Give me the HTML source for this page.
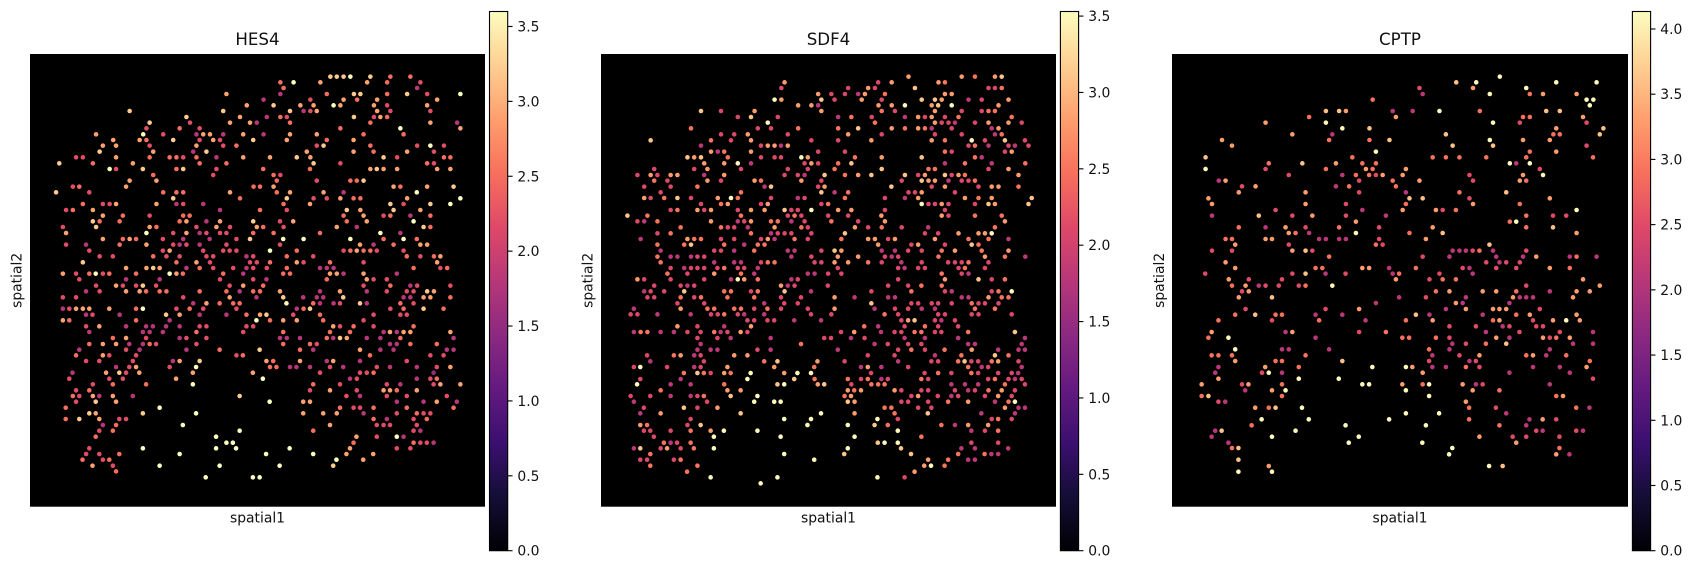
<!DOCTYPE html>
<html lang="en">
<head>
<meta charset="utf-8">
<title>Spatial gene expression: HES4, SDF4, CPTP</title>
<style>
html,body{margin:0;padding:0;background:#fff;width:1691px;height:568px;overflow:hidden}
svg{display:block}
text{font-family:"DejaVu Sans","Liberation Sans",sans-serif;fill:#111}
</style>
</head>
<body>
<svg id="figure" xmlns="http://www.w3.org/2000/svg" width="1691" height="568" viewBox="0 0 1691 568"></svg>
<script>
const geneNames = ["HES4", "SDF4", "CPTP"];
const hes4Ticks = [0, 0.5, 1, 1.5, 2, 2.5, 3, 3.5];
const sdf4Ticks = [0, 0.5, 1, 1.5, 2, 2.5, 3, 3.5];
const cptpTicks = [0, 0.5, 1, 1.5, 2, 2.5, 3, 3.5, 4];
const exprMax = [3.6, 3.53, 4.134];
const spatial1Min = [84, 87, 115];
const spatial1Max = [1358, 1361, 1392];
const spatial2Range = [162, 1520];
const magmaColors = ["#000004","#140e36","#3b0f70","#641a80","#8c2981","#b73779","#de4968","#f7705c","#fe9f6d","#fecf92","#fcfdbf"];

// Each row: spatial2, then repeated spatial1, expression pairs
const hes4Rows = [
[230,925,3.2,943,3.2,962,3.2,981,3.6,1037,3.2,1093,2.5,1149,2.5],
[247,785,2.5,822,3.6,897,2.9,1028,2.9,1084,2.5,1177,2.2],
[264,794,2.5,1168,1.8],
[282,634,2.9,785,1.8,915,2.5,991,3.2,1009,3.2,1084,2.5,1140,3.2,1196,2.2,1289,3.6],
[299,738,1.8,869,2.2,962,2.9,1000,2.5,1056,2.9,1224,2.9],
[316,691,2.9,766,3.2,841,2.9,878,2.9,934,3.6,953,2.9,1047,2.9,1084,2.2,1196,2.9],
[333,363,3.2,625,3.2,812,3.2,850,1.8,869,2.2,887,2.9,1056,2.9,1093,2.2,1205,2.2],
[351,522,3.2,672,2.9,747,1.8,785,2.5,803,2.2,991,3.2,1047,2.2,1065,2.9,1084,2.5],
[368,419,3.2,532,2.2,644,2.9,700,2.9,719,1.8,812,2.5,1037,2.5,1205,2.9,1280,1.8],
[385,410,2.2,503,2.5,559,2.2,953,2.5,1121,3.6,1289,2.9],
[403,269,2.9,401,3.6,457,2.2,550,1.8,569,2.9,588,2.9,625,1.8,681,2.9,738,1.8,812,2.9,887,2.9,1018,2.5,1130,2.5],
[420,317,2.9,391,2.9,410,2.5,485,3.2,559,2.2,597,2.9,616,2.2,709,3.2,803,2.9,915,2.5,990,2.9],
[437,288,2.9,325,2.9,419,2.2,550,2.9,625,2.2,662,2.5,887,2.2,906,3.2,1037,2.5,1168,2.2,1205,3.6,1243,2.2],
[455,279,3.2,429,2.9,541,1.8,578,3.2,859,2.9,990,2.9,1046,2.5,1140,2.9,1215,2.2],
[472,213,2.2,232,2.2,325,2.9,419,2.5,475,2.5,494,2.5,513,2.2,550,2.5,606,1.8,681,2.9,756,2.9,831,3.2,869,2.9,1074,3.2,1112,2.2,1243,2.5,1261,2.5],
[490,166,3.2,260,2.5,372,2.9,559,2.5,634,2.5,878,3.2,953,2.2,1196,2.5,1215,2.2],
[507,307,3.6,325,2.2,400,3.2,494,2.5,513,3.2,606,2.2,737,2.5,868,2.5,1037,2.9,1055,3.2,1074,2.9,1112,2.9,1224,2.9,1261,2.9],
[525,429,2.5,597,2.2,766,2.5,785,2.2],
[542,363,2.9,438,2.9,775,2.5,887,2.2,981,2.5,999,2.5,1018,3.2],
[560,204,2.2,222,2.5,353,2.9,710,2.5,728,2.5,766,2.9,1102,2.9,1121,2.5,1196,2.9,1270,3.2],
[577,157,3.2,250,2.2,457,2.5,494,2.5,513,2.5,644,2.9,775,2.5,812,2.9,906,2.9,962,1.8,1167,3.6],
[595,485,3.2,672,2.5,803,3.2,878,2.2,915,2.2,953,2.9,990,2.5,1009,2.5,1140,2.9,1289,3.6],
[612,232,2.5,288,2.2,307,2.2,325,2.9,438,2.9,494,1.8,513,2.2,569,1.8,794,2.5,868,2.9,1093,3.2,1130,2.2,1205,3.2,1261,3.6],
[630,185,2.2,204,2.5,260,2.9,616,1.8,728,2.5,803,2.2,971,3.2,1009,2.9,1102,3.2,1177,2.9],
[647,288,2.9,344,2.5,419,2.2,513,2.5,531,2.5,962,2.5,1018,2.9,1074,2.2,1093,2.5,1149,1.8,1205,2.5],
[664,260,3.2,279,2.5,335,2.5,503,2.5,522,2.9,578,1.8,616,2.9,709,3.2,784,2.2,821,2.9,971,2.5,1027,2.9,1158,3.6],
[681,176,2.2,269,3.2,419,2.9,438,2.5,550,2.2,606,2.9,644,2.2,719,2.9,737,2.5,794,2.2,943,2.9,999,1.8,1186,3.2,1205,2.5],
[699,185,2.9,410,3.6,485,2.2,522,2.9,559,1.8,578,2.2,616,2.2,634,2.2,709,2.5,766,2.5,896,2.5,1065,3.6,1121,1.8],
[717,288,2.9,344,2.5,363,2.9,381,2.5,456,2.2,513,1.8,587,1.8,662,2.2,700,3.2,793,3.6,850,3.6,981,3.6,1074,2.5,1130,3.6,1167,2.5],
[734,185,2.2,241,1.8,335,2.5,410,2.9,485,2.2,503,1.8,522,2.2,559,1.8,634,2.2,784,2.2,1008,2.9,1046,1.8,1102,2.5,1177,2.9,1196,2.9],
[752,250,2.2,456,2.2,475,2.9,569,2.2,625,2.2,643,2.2,662,2.2,756,3.6,831,2.5,962,2.2,981,2.5,999,2.9,1018,2.5,1037,2.5,1055,2.2,1130,2.2],
[769,279,2.2,316,2.2,429,2.5,466,2.2,503,2.2,578,2.2,597,2.2,690,1.8,709,2.2,803,2.5,877,2.2,1139,2.5,1177,2.2,1215,2.5,1233,2.9],
[787,232,3.2,494,2.5,550,2.9,588,2.2,700,2.2,719,2.2,756,2.5,831,2.9,850,2.2,924,2.5,1018,2.2,1224,2.9],
[804,353,2.9,410,2.9,429,3.2,447,2.9,522,1.8,559,2.5,597,2.2,653,2.2,690,1.8,709,2.2,747,2.2,803,2.5,896,1.8,915,1.8,934,1.8,1158,2.5,1233,2.2,1252,2.5],
[821,176,2.9,213,2.2,250,2.5,268,3.6,288,2.2,306,2.5,381,2.5,475,3.6,494,2.9,512,2.5,625,2.5,681,1.8,793,2.5,812,2.5,924,2.9,943,2.9,962,1.8,1018,2.9,1111,1.8],
[838,222,2.2,353,1.8,447,1.8,616,2.2,709,2.2,746,1.8,915,2.5,1027,2.9,1046,2.2,1083,2.2],
[857,269,2.2,325,2.9,344,2.2,381,2.2,400,3.2,437,2.2,643,2.2,681,2.9,737,2.5,1018,2.2,1093,2.5,1149,1.8,1168,2.2,1261,2.2],
[874,241,1.8,279,2.2,353,2.9,391,2.9,409,2.5,447,2.5,466,2.5,559,2.5,634,2.5,671,1.8,709,2.5,728,2.5,784,2.9,896,1.8,952,2.9,1027,1.8,1083,2.2,1139,2.2,1158,2.2,1196,3.2,1215,2.9],
[892,176,2.2,213,2.2,513,2.2,643,2.9,718,1.8,793,3.2,849,1.8,887,1.8,905,1.8,961,3.2,1130,1.8,1149,1.8,1186,2.9,1205,2.9,1261,2.5],
[910,541,1.8,578,2.9,615,2.5,653,2.5,671,2.5,802,3.6,877,2.5,896,1.8,934,1.8,952,2.2,1008,3.2,1027,1.8,1121,2.5,1158,2.2],
[926,176,1.8,194,2.2,213,2.9,232,2.9,250,2.9,306,2.9,381,2.5,400,3.6,494,2.2,531,2.5,569,2.2,662,2.2,831,1.8,850,2.5,868,3.2,1093,2.2,1130,2.5,1186,3.2,1242,2.5],
[944,241,1.8,259,2.2,335,1.8,465,3.2,503,2.9,559,1.8,634,1.8,690,2.5,728,2.9,746,3.2,821,2.2,896,2.5,1046,2.2,1121,2.2,1139,2.2],
[961,176,2.9,194,2.5,381,2.5,475,1.8,718,3.6,756,2.5,793,2.9,831,2.9,905,2.5,1018,2.2],
[979,241,2.2,278,2.9,353,1.8,409,1.8,428,1.8,465,1.8,503,1.8,559,2.2,578,2.2,690,2.2,709,2.2,933,2.9,952,2.2,990,2.5,1046,2.2,1158,2.5],
[996,250,1.8,400,1.8,419,1.8,456,1.8,550,2.5,681,2.2,793,2.5,924,2.5,980,2.5,1074,1.8,1092,2.9,1111,1.8,1130,2.9,1149,2.9,1261,2.9],
[1014,316,2.5,353,2.9,409,2.2,503,1.8,522,2.2,578,2.2,784,1.8,803,1.8,840,1.8,915,2.5,933,1.8,952,3.2,971,2.9,1027,1.8,1065,1.8,1121,2.5,1270,1.8],
[1032,250,2.5,288,2.9,325,2.9,362,1.8,400,1.8,419,2.5,437,2.2,550,2.2,793,2.5,868,2.5,887,2.2,1092,1.8,1111,1.8,1149,2.5,1223,2.5],
[1049,222,1.8,353,2.2,391,1.8,522,1.8,615,2.5,727,3.2,840,2.5,877,1.8,1008,2.9,1065,1.8,1102,1.8,1251,1.8,1270,1.8],
[1066,213,2.5,288,2.9,306,2.2,381,2.2,662,2.2,680,2.5,1036,2.5,1205,2.2,1242,2.2],
[1083,241,2.2,278,2.2,372,2.2,484,1.8,503,2.9,559,3.2,746,2.9,765,2.5,840,2.9,915,1.8,933,2.9,1008,1.8,1139,2.2],
[1101,325,1.8,362,2.2,381,2.9,475,2.2,549,3.6,756,2.5,774,2.5,812,1.8,830,1.8,868,1.8,924,2.2,961,1.8,1055,2.2,1092,1.8,1167,1.8,1223,2.2,1261,2.9],
[1118,203,1.8,297,2.9,334,3.2,353,2.2,390,2.9,540,2.9,708,2.9,896,2.2,1008,2.2,1027,2.2,1046,2.5,1214,1.5],
[1136,194,2.2,306,2.2,344,2.2,493,2.9,736,3.6,980,1.8,999,2.2,1167,1.8,1205,2.2,1223,2.5],
[1153,260,2.2,316,2.5,409,2.5,540,3.6,877,2.5,952,2.2,1083,2.2,1121,1.8,1214,2.2,1233,2.9,1289,2.9],
[1171,213,2.2,250,2.5,868,2.2,924,2.9,999,2.2,1074,2.9,1092,2.9,1111,2.5,1167,2.9],
[1188,204,2.5,222,2.2,260,2.9,278,1.8,316,2.9,372,1.8,671,3.2,970,2.2,1008,1.8,1083,2.2,1139,2.2,1251,2.2],
[1205,213,2.2,268,3.2,325,2.9,755,3.6,849,2.9,868,2.9,1111,1.8,1186,1.8,1223,2.9,1279,1.8],
[1223,184,2.5,447,3.6,952,2.5,990,2.2,1008,2.2,1046,2.5,1139,2.5,1270,2.5],
[1240,250,3.2,268,2.9,400,3.2,549,3.6,849,2.9,905,2.9,943,2.9,1018,1.8,1111,2.2,1167,2.5,1186,2.2,1205,2.2],
[1257,184,2.5,222,3.2,278,2.9,334,2.2,353,2.2,1046,2.5,1083,1.8,1158,2.2,1195,2.5],
[1275,288,1.8,325,2.5,512,3.6,924,2.9,1055,2.2,1074,2.2,1092,2.2,1167,2.2],
[1292,278,2.2,316,2.5,671,3.6,877,2.5,1158,2.2,1177,1.8],
[1310,268,2.5,605,3.6,998,2.9,1055,2.2,1111,3.6,1130,1.8],
[1328,634,3.6,652,3.6,990,2.5,1158,2.5,1177,2.2,1195,2.2,1214,1.8],
[1345,250,2.2,400,3.6,605,3.6,661,3.6,811,3.6,980,2.9,1111,2.2,1149,2.2],
[1362,241,2.2,278,2.2,334,2.5,503,3.6,745,3.6,877,3.6,970,2.9,1045,2.9],
[1379,231,2.5,288,2.2,306,2.5,942,3.6,1017,2.9],
[1397,259,2.9,316,2.2,447,3.6,615,3.6,783,3.6,933,3.2],
[1414,325,2.5],
[1432,576,3.6,708,3.6,727,3.6]
];

const sdf4Rows = [
[230,948,2.8,1097,2.8,1134,2.5,1190,2.8,1209,3.1],
[247,601,2.8,863,2.1,901,2.8,1032,2.8,1050,2.5],
[264,592,2.1,779,2.1,835,2.8,854,2.1,966,3.1,1172,2.1,1190,2.1,1209,2.5],
[282,695,2.8,732,2.1,770,2.1,807,1.8,826,2.8,882,2.5,1050,2.8,1069,2.8],
[299,573,3.5,592,2.8,704,3.1,741,2.1,817,2.8,873,2.1,985,3.1,1022,3.1,1041,2.8,1116,1.8,1153,2.1,1228,2.8],
[316,639,2.8,676,2.8,695,1.8,864,2.8,901,2.8,938,3.5,1013,2.8,1031,3.1,1069,3.5,1200,2.8],
[333,367,3.1,423,2.1,517,2.8,704,2.8,873,2.5,910,2.1,1022,2.8,1097,2.1,1153,2.1,1172,2.5,1190,2.5],
[351,470,2.1,507,3.1,582,2.1,751,1.8,788,2.5,845,2.1,938,1.8,975,2.8,994,2.1,1013,2.8,1050,2.1,1088,2.5,1237,2.5],
[368,554,3.5,854,2.5,1022,2.8,1041,2.1,1060,2.1,1078,1.8,1134,2.1,1172,2.8,1228,2.8,1265,2.1],
[385,339,2.5,526,2.1,563,2.1,639,2.5,751,2.5,807,3.1,901,2.8,938,2.5,975,2.8,994,2.5,1013,1.8,1069,2.1,1181,1.8,1200,2.8],
[403,423,2.1,460,2.1,498,2.8,610,2.1,779,2.8,873,2.1,1022,2.1,1097,2.1,1190,1.8,1209,2.5],
[421,226,3.1,395,2.5,451,2.1,507,2.8,676,2.1,751,2.1,844,2.8,1013,2.8,1050,2.5,1125,3.5,1162,2.1,1218,3.1,1274,2.1],
[437,367,1.8,535,2.1,554,2.8,573,2.8,591,1.8,610,2.8,1116,2.1,1134,2.5,1172,1.8,1228,2.1,1246,1.8,1284,2.1],
[455,395,2.8,414,1.8,432,2.5,507,2.8,695,2.1,770,2.1,1050,2.5,1069,2.1,1218,2.1,1237,2.8],
[472,329,3.1,348,2.8,367,3.1,442,2.5,535,2.1,573,2.1,591,2.1,648,3.5,666,2.8,798,2.5,873,2.8,985,3.1,1134,2.5,1153,1.8],
[490,376,2.8,432,2.8,470,3.5,507,1.8,657,2.1,676,2.8,695,2.1,751,2.5,788,3.1,1050,1.8,1106,2.5,1181,1.8,1275,2.5],
[507,236,2.1,348,2.1,385,2.8,479,2.1,610,2.1,666,2.1,741,2.5,873,3.1,1004,2.5,1022,2.5,1172,2.1,1228,2.8],
[525,189,2.1,226,2.8,245,2.1,282,2.8,301,2.8,376,1.8,432,2.8,601,2.1,638,2.1,657,1.8,713,3.1,770,2.5,807,2.8,844,3.1,938,3.1,975,2.1,994,2.8,1050,3.1,1069,2.1,1088,2.8,1106,2.5,1256,2.8],
[542,236,2.5,273,2.1,385,2.8,423,2.1,517,2.8,535,2.5,648,2.8,704,2.1,929,2.1,985,3.1,1004,2.8,1022,2.8,1060,1.8,1097,2.1,1116,2.1,1134,2.5],
[560,208,2.1,282,2.1,357,2.5,545,1.8,563,3.1,695,2.1,713,2.8,900,3.1,1013,2.1,1050,2.8,1144,2.1,1181,2.8,1200,2.8,1256,2.5],
[577,254,2.1,479,2.5,704,3.1,741,1.8,779,2.5,948,2.1,966,2.1,985,2.8,1078,2.1],
[594,208,2.8,226,2.1,264,2.5,301,3.1,339,2.1,414,2.8,451,3.5,470,2.5,563,2.1,638,1.8,657,2.1,770,2.5,882,2.1,938,1.8,975,2.8,1106,2.8,1144,2.5,1181,2.8,1293,3.1],
[612,367,2.1,423,2.5,442,2.8,535,2.1,554,2.8,704,2.1,723,2.5,985,3.5,1004,2.1,1022,2.1,1041,2.8,1060,2.1,1134,2.1,1172,3.1,1190,2.8,1284,3.1],
[630,282,2.1,301,2.5,357,2.8,376,2.1,395,2.8,470,2.1,507,2.8,545,2.8,601,3.1,620,2.1,638,2.1,676,3.5,751,2.8,788,2.8,882,2.1,1050,2.1],
[647,161,3.1,217,2.5,479,2.5,610,2.1,629,2.5,648,2.1,723,2.1,779,2.1,872,2.8,1041,2.8,1060,2.1,1134,2.5,1209,2.5],
[664,189,2.1,208,1.8,245,2.5,395,2.8,470,1.8,488,2.1,507,2.8,563,2.5,582,2.5,620,1.8,657,2.1,732,2.5,807,2.1,882,2.8,1218,2.8],
[682,310,2.5,423,2.5,442,2.1,460,2.1,498,1.8,573,2.8,648,2.5,666,2.1,798,2.8,835,2.1,873,2.5,929,2.1,1003,1.8,1190,2.5],
[700,245,2.1,282,2.5,507,2.5,563,1.8,582,2.1,601,2.1,620,2.1,676,2.1,770,3.1,994,2.1,1031,2.1,1088,2.8,1144,2.8,1162,2.8,1181,3.5],
[717,198,1.8,329,2.8,348,2.5,367,2.5,423,2.1,460,2.1,535,2.1,554,2.8,573,1.8,629,2.5,666,2.1,760,2.5,835,2.8,854,2.8,891,2.1,910,2.8,1022,2.8,1116,2.5,1172,2.5,1228,1.8],
[734,245,2.5,320,2.5,339,3.1,432,2.5,488,1.8,526,2.5,545,2.5,863,2.8,956,2.1,975,2.8,1050,2.1,1125,3.1,1144,2.5],
[752,254,1.8,404,2.1,423,2.1,460,1.8,516,2.5,610,1.8,629,1.8,704,2.1,741,3.1,760,2.8,873,1.8,910,1.8,947,2.1,985,2.1,1041,2.5,1078,2.8,1153,2.5,1228,2.8],
[770,245,2.5,282,1.8,301,1.8,339,1.8,357,2.1,376,2.1,620,1.8,676,2.1,750,2.8,807,2.8,882,2.1,901,1.8,919,2.1,1032,2.5,1162,2.8,1218,2.5,1275,1.8],
[787,254,2.5,404,1.8,460,1.8,479,1.8,535,2.1,554,2.5,573,2.5,685,2.1,704,2.1,741,2.8,779,2.8,835,2.5,873,2.1,928,1.8,985,2.1,1059,2.1,1078,2.1,1097,2.1,1116,2.5,1172,2.1],
[804,282,2.1,320,1.8,339,2.1,357,2.1,376,2.1,413,2.1,432,2.5,470,2.1,488,2.1,526,1.8,750,2.1,919,2.1,937,1.8,975,2.1,994,2.1,1088,2.1,1106,2.5,1162,2.1],
[821,273,2.5,329,2.1,404,2.8,479,2.5,516,1.8,666,1.8,685,1.8,723,2.1,760,2.1,1041,2.5,1097,2.1,1116,1.8],
[838,189,2.8,208,2.1,282,2.1,376,2.1,451,1.8,470,3.5,488,2.8,526,2.5,620,1.8,638,2.1,919,2.1,1050,2.8,1144,3.1,1181,2.1,1218,2.5],
[857,236,2.1,310,2.1,329,1.8,348,2.1,591,2.8,610,1.8,629,2.1,722,2.1,891,2.1,947,2.1,984,2.5,1041,2.5],
[874,208,1.8,226,2.1,264,2.1,320,3.1,432,2.5,451,2.5,507,2.1,526,2.5,601,3.1,675,1.8,844,2.1,956,2.5,1050,2.1,1069,1.8,1181,2.1,1200,2.5,1237,3.5],
[892,217,2.1,236,2.1,310,2.5,348,2.1,367,2.5,441,2.5,516,2.5,591,2.1,647,2.1,741,2.8,797,1.8,891,1.8,910,1.8,1097,1.8,1116,1.8,1172,2.8,1209,2.5,1228,2.5],
[910,301,2.1,376,2.1,544,1.8,600,2.1,638,2.1,844,3.1,956,2.1,975,2.1,1013,2.1,1031,2.1,1069,2.1,1125,2.5,1144,2.1,1162,2.1,1200,2.1],
[926,179,1.8,310,2.8,385,2.5,404,2.5,460,2.5,479,2.5,516,2.1,553,2.5,591,2.1,666,2.1,741,2.8,853,1.8,910,2.1,947,2.1,985,1.8,1022,1.8,1134,2.5,1190,2.5],
[943,170,2.1,189,2.1,245,1.8,338,1.8,395,2.1,414,2.1,432,2.5,470,2.1,488,1.8,544,1.8,675,2.1,732,2.1,881,2.5,919,2.1,1031,2.1,1050,2.1,1125,2.1,1144,2.1,1237,2.1],
[961,497,2.1,516,2.1,553,2.1,572,2.1,628,1.8,703,1.8,928,2.1,947,2.8,965,3.1,1022,2.1,1040,1.8,1078,2.1],
[979,301,2.8,357,2.1,432,1.8,507,2.8,824,2.5,863,1.8,937,2.1,994,2.5,1031,2.1,1087,2.1],
[996,179,1.8,198,2.5,217,2.5,254,1.8,291,1.8,329,2.1,366,2.1,404,2.5,422,1.8,441,2.1,478,2.8,497,2.1,759,2.1,796,2.8,871,1.8,909,2.1,928,2.1,965,2.5,984,2.5,1022,2.1,1040,2.1,1115,2.5,1246,3.1],
[1014,357,2.1,413,2.1,450,1.8,562,1.8,712,2.1,731,2.1,787,1.8,825,2.1,937,1.8,994,1.8,1087,1.8,1274,1.8],
[1032,366,1.8,647,2.5,853,1.8,890,2.1,947,2.1,984,2.1,1115,1.8,1134,1.8,1265,1.8],
[1049,357,1.8,394,1.8,413,1.8,525,2.1,562,1.8,750,1.8,919,2.1,956,2.5,994,2.1,1049,2.5,1125,2.8,1199,1.8,1256,1.8,1274,1.8],
[1066,216,2.1,291,2.5,310,2.8,348,1.8,366,2.1,460,2.8,497,2.8,834,2.1,909,2.1,1022,1.8,1096,2.5,1190,3.1,1228,2.5],
[1084,225,1.8,375,2.1,544,2.5,581,3.1,693,2.8,769,2.1,919,1.8,1012,2.1,1031,2.1,1087,2.5,1105,3.1,1124,2.1,1143,2.1,1181,2.5,1199,2.8,1256,2.1],
[1101,179,2.1,197,3.5,272,2.1,348,1.8,366,2.1,441,2.8,572,2.8,684,2.5,815,1.8,834,2.8,872,1.8,947,2.1,1115,2.5,1153,1.8,1171,2.1,1265,1.8],
[1119,319,2.5,357,3.1,375,2.5,394,2.1,432,2.8,450,2.5,506,3.5,600,2.8,637,3.5,675,3.5,843,2.1,993,2.1,1031,2.5,1068,2.1,1124,2.5,1143,2.1,1199,2.1,1237,2.1,1255,1.8],
[1137,197,2.1,310,1.8,497,3.5,628,3.1,685,2.5,778,2.5,815,2.1,834,2.5,872,1.8,890,2.1,984,2.5,1003,2.1,1171,2.1,1190,2.5,1228,2.1,1246,1.8,1265,2.1],
[1153,188,3.5,282,1.8,338,1.8,432,2.5,581,3.1,600,3.5,694,2.8,712,3.1,788,2.1,844,2.5,863,2.5,881,2.5,1068,1.8,1106,1.8,1143,1.8,1218,2.5,1274,2.1],
[1171,254,2.5,441,2.8,478,2.8,778,2.8,796,2.5,815,2.8,909,2.8,928,2.1,984,2.1,1003,2.1,1078,2.1,1115,1.8,1134,2.1,1172,2.5,1209,2.8,1246,2.1],
[1188,170,2.1,225,2.1,282,1.8,338,1.8,357,2.1,375,2.5,450,3.1,525,3.5,769,2.5,787,2.8,956,2.1,975,2.8,1030,2.1,1068,1.8,1087,2.1,1162,2.1,1199,2.8,1237,2.1],
[1205,179,1.8,384,2.1,516,3.5,572,3.5,590,3.5,778,3.1,797,2.8,928,2.1,947,2.1,1003,2.1,1059,2.5,1115,2.8,1190,1.8,1228,2.5,1246,3.5],
[1223,207,2.1,319,3.1,357,2.1,413,2.8,881,2.5,900,2.5,975,2.1,1012,2.1,1218,2.8,1256,1.8,1274,1.8],
[1240,197,1.8,254,2.8,478,3.1,703,3.5,797,2.8,909,2.5,1002,3.1,1152,1.8,1246,1.8],
[1257,338,2.1,600,3.5,675,3.5,861,3.5,918,2.1,1181,2.1,1199,2.5,1237,2.1],
[1275,197,2.8,216,2.5,329,2.1,366,3.1,665,3.5,778,3.5,853,3.1,890,2.5,1040,2.5,1078,1.8,1115,2.8,1171,2.8],
[1292,207,2.1,225,2.1,282,2.1,338,2.5,394,2.8,431,3.5,525,3.5,918,3.5,1124,1.8,1162,2.1,1199,2.5],
[1310,235,2.1,403,3.5,590,3.5,797,3.5,984,2.5],
[1328,263,2.5,282,1.8,300,2.1,338,2.5,862,3.1,881,3.5,918,3.5,1124,2.1,1199,2.1],
[1345,179,1.8,197,3.1,254,2.1,272,2.8,310,2.1,347,2.5,403,3.5,778,3.5,927,3.1,1096,1.8,1134,1.8,1227,1.8],
[1362,225,2.5,600,3.5,768,3.1,955,3.1,1087,2.5,1161,2.5,1180,1.8,1199,1.8],
[1379,197,2.1,216,2.1,291,2.1,310,2.5,684,3.5,1003,2.8,1059,2.5,1115,1.8,1134,1.8],
[1397,225,2.5,357,2.5,992,2.8,1011,3.5,1049,2.5],
[1415,328,2.5,965,2.8],
[1432,394,3.5,581,3.5,861,3.5,937,2.1],
[1450,534,3.5]
];

const cptpRows = [
[230,1033,4.1],
[247,911,3.6,967,4.1,1191,4.1,1304,4.1],
[264,808,2.5,958,3.3,1107,4.1],
[282,817,2.1,1005,4.1,1117,2.9,1154,3.3,1248,3.3],
[299,677,2.9,1276,4.1,1295,4.1],
[316,1285,4.1],
[333,546,3.6,583,3.6,602,3.3,733,2.1,789,2.1,864,4.1,977,2.9,1163,3.6,1201,3.6],
[351,499,2.9,742,3.3,1098,2.9,1117,2.9,1266,3.3],
[368,377,3.3,546,4.1,1014,4.1,1089,2.5,1276,2.5],
[385,592,4.1,668,3.6,1191,3.3,1323,3.6],
[403,452,3.3,564,2.1,882,3.6,1183,2.9,1201,2.9,1313,3.6],
[420,255,3.3,555,2.9,668,2.9,724,3.6,1005,4.1,1098,3.3,1173,3.3],
[437,283,3.3,901,3.6,1014,3.6,1276,2.5],
[455,686,4.1,1117,2.9,1191,3.3],
[472,209,3.6,620,2.9,845,2.9,882,2.9,920,2.9,995,2.9,1107,2.9,1294,2.9],
[490,386,2.9,480,3.6,574,3.3,648,2.9,686,2.9,1061,4.1,1079,2.1,1117,4.1],
[507,209,4.1,377,2.5,546,2.9,658,3.3,677,2.9,770,3.3,1145,2.5],
[525,442,2.5,592,2.1,630,2.9,667,2.9,686,2.5,705,3.3,761,3.3,948,2.5,1098,3.3,1154,4.1],
[542,246,2.1,265,3.3,639,2.5,733,2.9,808,3.3,958,2.5,1089,3.3,1107,2.9],
[559,311,2.5,349,3.3,574,2.1,611,2.9,742,2.9],
[577,302,3.3,489,3.3,639,2.5,770,2.1,920,2.9,1051,3.6],
[595,217,3.3,780,3.6,817,3.6,948,2.5,1173,3.3],
[612,227,3.3,489,3.3,602,2.5,770,2.9,958,3.3,1089,2.9],
[630,405,2.5,648,2.1,761,3.3,854,3.3,873,2.5,910,2.9,1248,4.1],
[647,227,2.1,358,3.6,452,2.5,508,3.3,602,2.5,714,2.1,1107,2.9,1182,2.5,1219,2.5],
[665,630,3.3,1061,2.9,1079,4.1],
[682,302,2.9,377,2.1,433,3.3,489,2.5,583,2.9,695,2.5,845,3.3,1107,2.9,1182,3.6],
[699,442,3.3,461,2.9,499,2.1,630,4.1,780,2.9,873,3.6,1248,3.3],
[717,265,2.9,283,2.9,377,3.3,395,3.3,527,2.1,546,2.1,583,2.1,602,2.1,695,2.5,826,3.3],
[734,292,3.3,442,2.5,686,2.9,705,2.5,1004,3.6],
[752,227,2.5,283,2.5,452,3.3,489,3.6,508,2.5,901,2.1,920,2.1,938,2.1,957,2.5,976,2.9,1014,2.1,1107,2.5],
[770,555,2.9,817,2.5,892,2.1,1023,2.1,1098,2.1,1135,3.3,1229,2.1,1248,2.9,1304,2.1],
[787,265,3.3,995,2.5,1032,2.1,1051,2.5,1089,2.5],
[804,292,3.3,517,2.9,536,2.9,648,3.3,667,3.3,723,2.1,798,2.9,929,2.5,948,2.1,1023,2.5,1079,2.5,1173,3.3,1229,2.9],
[821,208,2.5,452,2.5,489,3.6,545,2.1,601,2.5,733,2.1,751,2.9,864,2.5,957,2.1],
[838,274,3.3,330,2.5,423,2.5,742,3.3,836,2.5,873,2.9,910,2.9,1266,3.3],
[857,283,2.9,321,3.3,358,2.1,377,2.5,414,2.5,470,2.5,489,2.9,564,4.1,1107,2.5,1313,3.3],
[874,311,2.5,330,3.3,854,2.9,892,3.3,985,3.3,1023,3.3,1079,2.9,1173,2.1,1248,3.3,1285,3.3],
[892,302,3.3,395,3.6,751,2.1,826,2.5,938,2.1,1070,3.3,1089,2.1,1107,2.1,1126,2.1,1238,3.3],
[909,686,2.1,910,3.3,929,2.1,1060,2.1],
[927,321,2.5,545,2.5,639,3.3,882,2.1,938,3.3,1014,3.3,1032,3.3,1051,3.3,1145,2.5],
[944,292,2.9,348,3.6,405,2.9,423,2.9,517,2.1,592,2.1,798,3.6,836,2.1,985,2.1,1079,2.9,1117,3.3,1248,3.3],
[961,245,2.9,395,2.5,527,2.9,657,2.1,770,2.9,845,3.3,1014,2.9,1032,3.3,1126,2.5,1182,3.3,1219,4.1,1257,3.3],
[979,892,2.5,966,2.5,1041,2.1,1060,2.5,1135,2.5,1154,2.5],
[996,226,3.3,433,2.1,452,3.3,639,2.5,714,2.9,994,2.1,1088,2.5,1201,2.5,1294,2.1],
[1013,217,2.9,273,4.1,517,2.1,760,2.9,779,2.9,854,2.9,892,2.5,1023,3.3,1060,2.1,1154,3.3,1173,2.5,1191,2.9,1229,3.3],
[1031,900,2.1,938,2.5,994,2.9,1051,3.6,1238,2.1,1294,2.1],
[1048,292,4.1,423,2.1,442,2.1,555,2.1,835,2.9,892,2.1,1173,2.1],
[1066,226,2.9,245,2.9,283,2.9,489,2.9,844,2.1,920,2.5,976,3.3,1107,2.9,1126,3.3,1163,2.1,1219,2.9],
[1083,292,3.3,405,2.9,423,2.9,592,3.6,835,2.5,948,2.1,966,2.5,1285,2.9],
[1101,245,2.1,376,3.3,470,2.9,676,4.1,770,4.1,788,3.3,844,2.1,882,2.1,938,2.9,976,2.5,1126,2.1,1201,2.1,1276,3.3],
[1118,236,2.1,367,2.5,386,4.1,423,2.1,817,3.3,1060,2.1,1229,2.1],
[1136,245,3.3,470,4.1,582,4.1,1294,2.5],
[1153,198,3.3,311,2.5,329,3.3,423,2.9,648,4.1,667,4.1,760,3.3,817,2.9,835,4.1,929,3.3,966,2.1,985,2.5,1173,2.1],
[1171,320,2.1,395,3.3,433,4.1,770,4.1,957,3.3,1032,2.9],
[1188,198,2.9,217,3.6,423,2.9,835,4.1,1191,2.9,1210,3.3],
[1205,245,2.5,264,2.1,938,3.3],
[1223,348,3.3,386,2.9,405,3.6,479,4.1,947,2.9,1022,2.5,1247,2.9,1284,2.1],
[1240,770,4.1,863,4.1,1051,2.1],
[1258,366,4.1,498,4.1,723,4.1,947,2.9,1116,2.1,1153,3.3,1191,2.5],
[1276,338,2.9,601,4.1,826,4.1,1032,2.9,1107,2.1],
[1292,236,2.1,254,3.6,461,4.1,1135,2.5,1153,2.1,1247,2.5,1266,2.1],
[1310,226,2.1,395,4.1,638,4.1,976,3.3,1069,2.5,1107,2.5,1200,2.5],
[1328,273,2.1,610,4.1,816,4.1,1079,3.3],
[1344,283,2.9,301,3.6,900,4.1,1200,2.9],
[1363,891,4.1,1191,3.3,1228,2.1],
[1379,301,3.6],
[1398,386,3.3,1003,4.1,1041,3.6],
[1415,301,4.1,395,4.1]
];

const panelRows = [hes4Rows, sdf4Rows, cptpRows];
const panelTicks = [hes4Ticks, sdf4Ticks, cptpTicks];

const SVG_NS = "http://www.w3.org/2000/svg";
const figure = document.getElementById("figure");
const axesLeft = [30, 601, 1172];
const axesRight = [485, 1056, 1628];
const axesTop = 54;
const axesBottom = 506.7;
const barLeft = [489.5, 1060.4, 1632.4];
const barWidth = 18.2;
const barTop = 11.5;
const barBottom = 550.7;
const yLabelX = [21.5, 592.5, 1164];

function xScale(p, v) {
  return axesLeft[p] + (v - spatial1Min[p]) / (spatial1Max[p] - spatial1Min[p]) * (axesRight[p] - axesLeft[p]);
}
function yScale(v) {
  return axesTop + (v - spatial2Range[0]) / (spatial2Range[1] - spatial2Range[0]) * (axesBottom - axesTop);
}
function barScale(p, v) {
  return barBottom - v / exprMax[p] * (barBottom - barTop);
}
function hexToRgb(h) {
  return [parseInt(h.slice(1, 3), 16), parseInt(h.slice(3, 5), 16), parseInt(h.slice(5, 7), 16)];
}
function magma(t) {
  const c = Math.max(0, Math.min(1, t)) * (magmaColors.length - 1);
  const i = Math.min(Math.floor(c), magmaColors.length - 2);
  const a = hexToRgb(magmaColors[i]);
  const b = hexToRgb(magmaColors[i + 1]);
  const f = c - i;
  return "rgb(" + a.map(function (x, k) { return Math.round(x + (b[k] - x) * f); }).join(",") + ")";
}
function make(tag, attrs, parent) {
  const el = document.createElementNS(SVG_NS, tag);
  Object.keys(attrs).forEach(function (k) { el.setAttribute(k, attrs[k]); });
  parent.appendChild(el);
  return el;
}

const defs = make("defs", {}, figure);
const grad = make("linearGradient", { id: "magma-grad", x1: 0, y1: 1, x2: 0, y2: 0 }, defs);
magmaColors.forEach(function (color, i) {
  make("stop", { offset: i / (magmaColors.length - 1), "stop-color": color }, grad);
});

geneNames.forEach(function (gene, p) {
  const g = make("g", {}, figure);
  
  

  const bg = make("rect", { x: axesLeft[p], y: axesTop, width: axesRight[p] - axesLeft[p], height: axesBottom - axesTop, fill: "#000" }, g);
  
  

  const spots = make("g", {}, g);
  
  
  panelRows[p].forEach(function (row) {
    for (let i = 1; i < row.length; i += 2) {
      const dot = make("circle", { cx: xScale(p, row[i]).toFixed(2), cy: yScale(row[0]).toFixed(2), r: 2.3, fill: magma(row[i + 1] / exprMax[p]) }, spots);
      
      
    }
  });

  const cx = (axesLeft[p] + axesRight[p]) / 2;
  const title = make("text", { x: cx, y: 45, "text-anchor": "middle", "font-size": "16.67" }, g);
  title.textContent = gene;
  
  

  const xl = make("text", { x: cx, y: 522.7, "text-anchor": "middle", "font-size": "13.89" }, g);
  xl.textContent = "spatial1";
  
  

  const yc = (axesTop + axesBottom) / 2;
  const yl = make("text", { x: yLabelX[p], y: yc, "text-anchor": "middle", "font-size": "13.89", transform: "rotate(-90 " + yLabelX[p] + " " + yc + ")" }, g);
  yl.textContent = "spatial2";
  
  

  const bar = make("rect", { x: barLeft[p], y: barTop, width: barWidth, height: barBottom - barTop, fill: "url(#magma-grad)", stroke: "#000", "stroke-width": "1.1" }, g);
  
  

  panelTicks[p].forEach(function (tick) {
    const ty = barScale(p, tick);
    const barRight = barLeft[p] + barWidth;
    const line = make("line", { x1: barRight, x2: barRight + 4.86, y1: ty, y2: ty, stroke: "#000", "stroke-width": "1.1" }, g);
    
    
    const label = make("text", { x: barRight + 9.7, y: ty + 5, "font-size": "13.89" }, g);
    label.textContent = tick.toFixed(1);
    
    
  });
});
</script>
</body>
</html>
